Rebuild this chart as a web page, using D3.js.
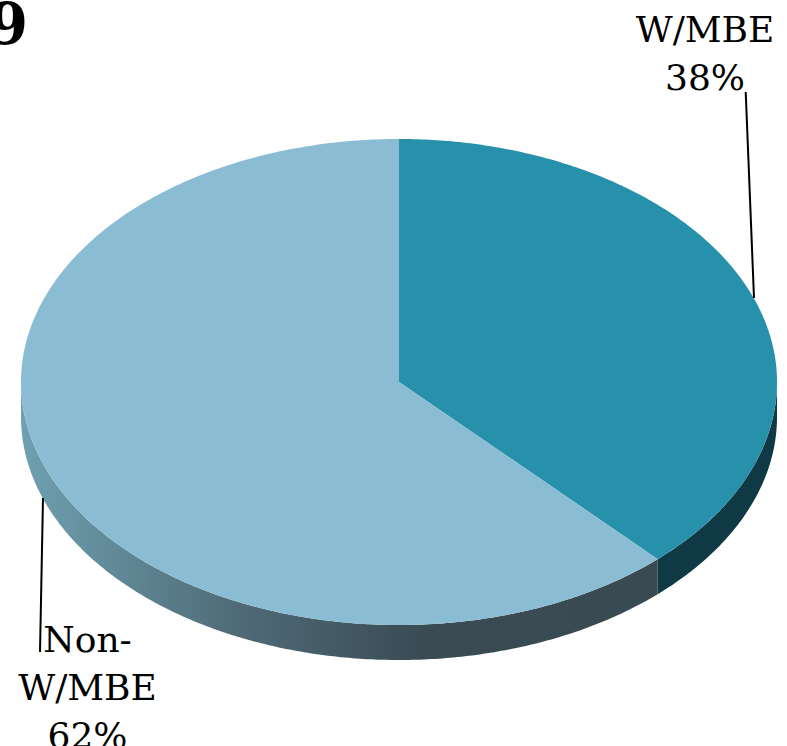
<!DOCTYPE html>
<html>
<head>
<meta charset="utf-8">
<script src="https://cdn.jsdelivr.net/npm/d3@7"></script>
<style>
  html, body { margin: 0; padding: 0; background: #fff; }
  svg { display: block; }
</style>
</head>
<body>
<svg id="chart" width="787" height="746"></svg>
<script>
// ---- data ----
const categories = ["W/MBE", "Non-W/MBE"];
const values = [38, 62];
const labelLines = [["W/MBE", "38%"], ["Non-", "W/MBE", "62%"]];
const titleText = "9";

// ---- styles ----
const topColors = ["#2790ab", "#8abdd3"];
const sideColors = ["#0f3a45", "url(#sideGrad)"];

const W = 787, H = 746;
const cx = 399, cy = 382, rx = 378, ry = 243, depth = 35;

const svg = d3.select("#chart");
const defs = svg.append("defs");
const grad = defs.append("linearGradient").attr("id", "sideGrad")
  .attr("gradientUnits", "userSpaceOnUse")
  .attr("x1", 21).attr("y1", 0).attr("x2", 640).attr("y2", 0);
grad.append("stop").attr("offset", "0%").attr("stop-color", "#6fa0b0");
grad.append("stop").attr("offset", "35%").attr("stop-color", "#4f6b77");
grad.append("stop").attr("offset", "65%").attr("stop-color", "#3a4b54");
grad.append("stop").attr("offset", "100%").attr("stop-color", "#394a53");

const pie = d3.pie().sort(null).value(d => d).startAngle(0).endAngle(2 * Math.PI);
const arcs = pie(values);

const px = a => cx + rx * Math.sin(a);
const py = a => cy - ry * Math.cos(a);

function arcPoints(a0, a1, dy) {
  const n = Math.max(2, Math.ceil(Math.abs(a1 - a0) / 0.01));
  const pts = [];
  for (let i = 0; i <= n; i++) {
    const a = a0 + (a1 - a0) * i / n;
    pts.push([px(a), py(a) + dy]);
  }
  return pts;
}

// sides (visible for angles between PI/2 and 3PI/2)
arcs.forEach((d, i) => {
  const a0 = Math.max(d.startAngle, Math.PI / 2);
  const a1 = Math.min(d.endAngle, 3 * Math.PI / 2);
  if (a1 <= a0) return;
  const p = d3.path();
  const top = arcPoints(a0, a1, 0);
  const bot = arcPoints(a1, a0, depth);
  p.moveTo(top[0][0], top[0][1]);
  top.slice(1).forEach(q => p.lineTo(q[0], q[1]));
  bot.forEach(q => p.lineTo(q[0], q[1]));
  p.closePath();
  svg.append("path").attr("d", p.toString()).attr("fill", sideColors[i]);
});

// tops
arcs.forEach((d, i) => {
  const p = d3.path();
  p.moveTo(cx, cy);
  arcPoints(d.startAngle, d.endAngle, 0).forEach(q => p.lineTo(q[0], q[1]));
  p.closePath();
  svg.append("path").attr("d", p.toString()).attr("fill", topColors[i]);
});

// leader lines
const leaders = [
  [[745.7, 92], [754, 298]],
  [[43, 498], [40, 652]]
];
leaders.forEach(l => {
  svg.append("line")
    .attr("x1", l[0][0]).attr("y1", l[0][1])
    .attr("x2", l[1][0]).attr("y2", l[1][1])
    .attr("stroke", "#000").attr("stroke-width", 2);
});

// labels
const labelPos = [
  { x: 705, y: 42 },
  { x: 87.5, y: 652 }
];
labelLines.forEach((lines, i) => {
  const t = svg.append("text")
    .attr("font-family", "'DejaVu Serif', serif")
    .attr("font-size", 36)
    .attr("fill", "#000")
    .attr("text-anchor", "middle");
  lines.forEach((s, j) => {
    t.append("tspan").attr("x", labelPos[i].x).attr("y", labelPos[i].y + j * 48).text(s);
  });
});

// clipped title fragment
svg.append("text")
  .attr("x", 28).attr("y", 44)
  .attr("text-anchor", "end")
  .attr("font-family", "'DejaVu Serif', serif")
  .attr("font-weight", "bold")
  .attr("font-size", 58)
  .attr("fill", "#000")
  .text(titleText);
</script>
</body>
</html>
